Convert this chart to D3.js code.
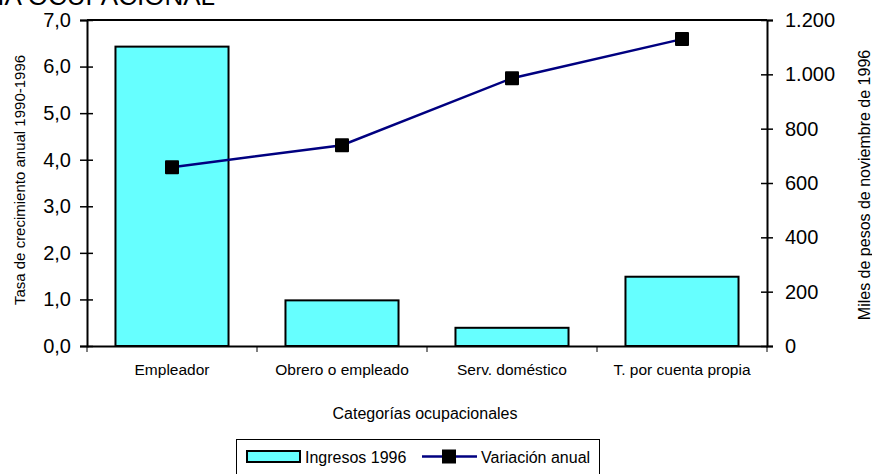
<!DOCTYPE html>
<html>
<head>
<meta charset="utf-8">
<script src="https://cdn.jsdelivr.net/npm/d3@7"></script>
<style>
  body { margin: 0; background: #fff; }
  text { font-family: "Liberation Sans", Arial, sans-serif; fill: #000; }
</style>
</head>
<body>
<div id="chart"></div>
<script>
// data
var categorias = ["Empleador", "Obrero o empleado", "Serv. doméstico", "T. por cuenta propia"];
var ingresos = [1102, 168, 67, 255];        // miles de pesos, eje derecho
var variacion = [3.84, 4.31, 5.75, 6.59];   // tasa de crecimiento, eje izquierdo
var ticksIzq = [0, 1, 2, 3, 4, 5, 6, 7];
var ticksDer = [0, 200, 400, 600, 800, 1000, 1200];

var width = 872, height = 474;
var margin = {top: 20, right: 105, bottom: 128, left: 87};
var w = width - margin.left - margin.right,
    h = height - margin.top - margin.bottom;

var loc = d3.formatLocale({decimal: ",", thousands: ".", grouping: [3], currency: ["$", ""]});

var svg = d3.select("#chart")
  .append("svg")
    .attr("width", width)
    .attr("height", height);

// title, cut off at top in the original
svg.append("text")
    .attr("x", 215)
    .attr("y", 5)
    .attr("text-anchor", "end")
    .style("font-size", "26px")
    .text("SEGÚN CATEGORÍA OCUPACIONAL");

var g = svg.append("g")
    .attr("transform", "translate(" + margin.left + "," + margin.top + ")");

var x = d3.scaleBand()
  .domain(categorias)
  .range([0, w]);

var yIzq = d3.scaleLinear()
  .domain([0, 7])
  .range([h, 0]);

var yDer = d3.scaleLinear()
  .domain([0, 1200])
  .range([h, 0]);

// bars
var bw = x.bandwidth() * 0.665;
g.append("g")
  .selectAll("rect")
  .data(categorias)
  .enter()
  .append("rect")
    .attr("x", function (d) { return x(d) + (x.bandwidth() - bw) / 2; })
    .attr("y", function (d, i) { return yDer(ingresos[i]); })
    .attr("width", bw)
    .attr("height", function (d, i) { return h - yDer(ingresos[i]); })
    .style("fill", "#66FFFF")
    .style("stroke", "#000")
    .style("stroke-width", 2);

// top border
g.append("line")
    .attr("x1", 0).attr("x2", w)
    .attr("y1", 0).attr("y2", 0)
    .style("stroke", "#000").style("stroke-width", 2);

// left axis
var axL = g.append("g")
    .call(d3.axisLeft(yIzq).tickValues(ticksIzq).tickSize(7).tickPadding(9)
      .tickFormat(loc.format(".1f")));
axL.selectAll("line").attr("x2", -7).attr("x1", 6);
axL.selectAll("text").style("font-size", "20px");

// right axis
var axR = g.append("g")
    .attr("transform", "translate(" + w + ",0)")
    .call(d3.axisRight(yDer).tickValues(ticksDer).tickSize(6).tickPadding(12)
      .tickFormat(loc.format(",.0f")));
axR.selectAll("line").attr("x1", -6).attr("x2", 6);
axR.selectAll("text").style("font-size", "20px");

// bottom axis with ticks at category boundaries
var axB = g.append("g")
    .attr("transform", "translate(0," + h + ")")
    .call(d3.axisBottom(x).tickSize(0).tickPadding(18));
axB.selectAll("text").style("font-size", "15.5px");
axB.selectAll(".bnd")
  .data(d3.range(categorias.length + 1))
  .enter()
  .append("line")
    .attr("x1", function (i) { return i * x.step(); })
    .attr("x2", function (i) { return i * x.step(); })
    .attr("y1", 0).attr("y2", 6)
    .style("stroke", "#000");

[axL, axR, axB].forEach(function (a) {
  a.select(".domain").style("stroke-width", 2).attr("stroke", "#000");
  a.selectAll(".tick line").attr("stroke", "#000").style("stroke-width", 1.5);
  a.attr("font-family", null);
});

// line
var linea = d3.line()
  .x(function (d, i) { return x(categorias[i]) + x.bandwidth() / 2; })
  .y(function (d) { return yIzq(d); });

g.append("path")
    .datum(variacion)
    .attr("d", linea)
    .style("fill", "none")
    .style("stroke", "#000080")
    .style("stroke-width", 2.5);

g.append("g")
  .selectAll("rect")
  .data(variacion)
  .enter()
  .append("rect")
    .attr("x", function (d, i) { return x(categorias[i]) + x.bandwidth() / 2 - 7; })
    .attr("y", function (d) { return yIzq(d) - 7; })
    .attr("width", 14)
    .attr("height", 14)
    .attr("rx", 1)
    .style("fill", "#000");

// axis titles
svg.append("text")
    .attr("transform", "translate(25,180) rotate(-90)")
    .attr("text-anchor", "middle")
    .style("font-size", "15px")
    .text("Tasa de crecimiento anual 1990-1996");

svg.append("text")
    .attr("transform", "translate(870,185) rotate(-90)")
    .attr("text-anchor", "middle")
    .style("font-size", "16px")
    .text("Miles de pesos de noviembre de 1996");

svg.append("text")
    .attr("x", margin.left + w / 2 - 2)
    .attr("y", 419)
    .attr("text-anchor", "middle")
    .style("font-size", "16px")
    .text("Categorías ocupacionales");

// legend
var leg = svg.append("g");
leg.append("rect")
    .attr("x", 236.5).attr("y", 439.5)
    .attr("width", 363).attr("height", 45)
    .style("fill", "#fff").style("stroke", "#000");
leg.append("rect")
    .attr("x", 247).attr("y", 451)
    .attr("width", 53).attr("height", 11)
    .style("fill", "#66FFFF").style("stroke", "#000").style("stroke-width", 2);
leg.append("text")
    .attr("x", 305).attr("y", 463)
    .style("font-size", "16px")
    .text("Ingresos 1996");
leg.append("line")
    .attr("x1", 422).attr("x2", 477)
    .attr("y1", 456.5).attr("y2", 456.5)
    .style("stroke", "#000080").style("stroke-width", 2.5);
leg.append("rect")
    .attr("x", 442).attr("y", 449.5)
    .attr("width", 14).attr("height", 14)
    .style("fill", "#000");
leg.append("text")
    .attr("x", 481).attr("y", 463)
    .style("font-size", "16px")
    .text("Variación anual");
</script>
</body>
</html>
